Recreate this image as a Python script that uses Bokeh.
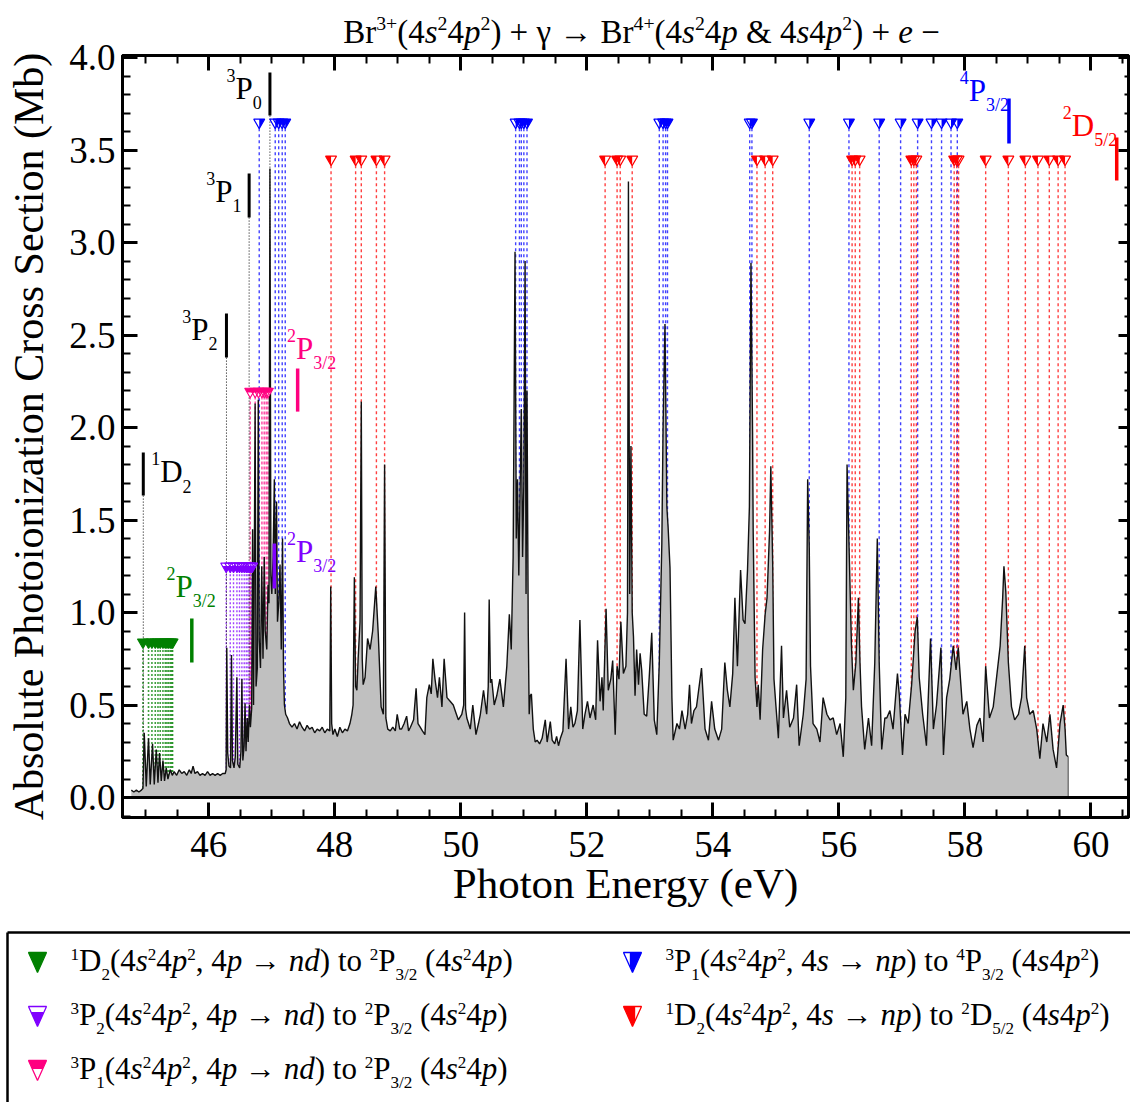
import math
from bokeh.plotting import figure
from bokeh.models import (Range1d, LinearAxis, SingleIntervalTicker, PrintfTickFormatter,
                          CustomJSTickFormatter, ColumnDataSource, Span)
from bokeh.layouts import column
from bokeh.core.properties import value, field
from bokeh.embed import file_html
from bokeh.resources import INLINE

FONT = "Liberation Serif"

# ------------------------------------------------------------------ data
# spectrum (photon energy eV, cross section Mb)
E_A = [44.77, 44.81, 44.85, 44.89, 44.93, 44.955, 44.975, 45.007, 45.043, 45.07,
       45.107, 45.134, 45.166, 45.193, 45.218, 45.245, 45.272, 45.297, 45.324, 45.351,
       45.388, 45.42, 45.45, 45.49, 45.53, 45.57, 45.61, 45.65, 45.69, 45.72,
       45.75, 45.78, 45.82, 45.86, 45.90, 45.94, 45.98, 46.02, 46.06, 46.10,
       46.14, 46.18, 46.22, 46.26]
S_A = [0.04, 0.03, 0.04, 0.03, 0.04, 0.05, 0.35, 0.06, 0.32, 0.07,
       0.29, 0.07, 0.26, 0.08, 0.24, 0.09, 0.20, 0.09, 0.16, 0.10,
       0.15, 0.12, 0.14, 0.12, 0.15, 0.13, 0.14, 0.12, 0.15, 0.13,
       0.17, 0.13, 0.14, 0.12, 0.13, 0.12, 0.14, 0.12, 0.13, 0.12,
       0.13, 0.12, 0.13, 0.13]
E_B = [46.275, 46.285, 46.30, 46.32, 46.345, 46.36, 46.375, 46.40, 46.42, 46.445,
       46.46, 46.49, 46.51, 46.525, 46.54, 46.56, 46.575, 46.59, 46.61, 46.625,
       46.645, 46.66, 46.68, 46.695, 46.71, 46.735, 46.75, 46.77, 46.785, 46.80,
       46.82, 46.84, 46.86, 46.88, 46.895, 46.92, 46.94, 46.955, 46.97, 46.985,
       47.00, 47.02, 47.04, 47.055, 47.075, 47.09, 47.11, 47.13, 47.15, 47.17,
       47.185, 47.20, 47.22, 47.25, 47.28]
S_B = [0.15, 0.81, 0.24, 0.17, 0.16, 0.77, 0.20, 0.16, 0.22, 0.65,
       0.18, 0.16, 0.25, 0.64, 0.20, 0.28, 0.51, 0.25, 0.43, 0.30,
       0.50, 0.38, 0.48, 1.45, 0.50, 2.13, 0.60, 0.70, 2.15, 0.85,
       0.70, 1.25, 0.75, 1.30, 0.90, 0.80, 1.15, 1.05, 3.40, 1.20,
       1.10, 1.30, 1.72, 1.10, 1.60, 0.95, 1.05, 1.26, 0.80, 1.40,
       0.70, 0.50, 0.45, 0.43, 0.40]
E_C = [47.32, 47.36, 47.40, 47.44, 47.48, 47.52, 47.56, 47.60, 47.64, 47.68,
       47.72, 47.76, 47.80, 47.84, 47.88, 47.92, 47.935, 47.95, 47.97, 48.00,
       48.04, 48.08, 48.12, 48.16, 48.20, 48.24, 48.27, 48.29, 48.31, 48.33,
       48.35, 48.37, 48.40, 48.42, 48.435, 48.45, 48.48, 48.52, 48.56, 48.60,
       48.65, 48.69, 48.735, 48.77, 48.79, 48.81, 48.84, 48.88]
S_C = [0.38, 0.40, 0.37, 0.41, 0.38, 0.36, 0.39, 0.37, 0.38, 0.35,
       0.37, 0.36, 0.38, 0.35, 0.37, 0.36, 1.14, 0.40, 0.34, 0.37,
       0.33, 0.38, 0.35, 0.37, 0.36, 0.40, 0.45, 0.50, 1.19, 0.60,
       0.58, 0.75, 0.95, 2.14, 0.75, 0.61, 0.65, 0.86, 0.80, 0.90,
       1.14, 0.88, 0.49, 0.45, 1.80, 0.43, 0.37, 0.36]
E_D = [48.92, 48.96, 48.99, 49.03, 49.06, 49.10, 49.14, 49.17, 49.20, 49.25,
       49.29, 49.32, 49.355, 49.39, 49.43, 49.46, 49.50, 49.53, 49.556, 49.59,
       49.63, 49.66, 49.70, 49.735, 49.78, 49.83, 49.88, 49.92, 49.96, 50.015,
       50.045, 50.06, 50.075, 50.095, 50.15, 50.19, 50.24, 50.28, 50.31, 50.36,
       50.41, 50.435, 50.45, 50.47, 50.49, 50.53, 50.57, 50.62, 50.675, 50.73,
       50.77]
S_D = [0.38, 0.36, 0.45, 0.37, 0.37, 0.40, 0.44, 0.36, 0.38, 0.42,
       0.59, 0.40, 0.38, 0.36, 0.34, 0.54, 0.61, 0.56, 0.75, 0.64,
       0.54, 0.65, 0.49, 0.75, 0.54, 0.52, 0.50, 0.46, 0.42, 0.45,
       0.50, 1.00, 0.48, 0.43, 0.37, 0.50, 0.34, 0.40, 0.45, 0.58,
       0.45, 0.60, 1.07, 0.62, 0.64, 0.50, 0.55, 0.64, 0.49, 0.71,
       0.99]
E_E = [50.80, 50.83, 50.86, 50.88, 50.90, 50.92, 50.94, 50.96, 50.98, 51.00,
       51.02, 51.035, 51.05, 51.07, 51.085, 51.10, 51.12, 51.15, 51.18, 51.21,
       51.25, 51.29, 51.34, 51.37, 51.42, 51.45, 51.49, 51.52, 51.55, 51.58,
       51.62]
S_E = [0.80, 1.30, 2.95, 1.40, 1.72, 1.20, 1.65, 2.10, 1.30, 1.70,
       2.90, 1.10, 2.20, 0.90, 0.45, 0.55, 0.56, 0.37, 0.30, 0.31,
       0.29, 0.32, 0.42, 0.30, 0.41, 0.31, 0.29, 0.33, 0.28, 0.32,
       0.36]
E_F = [51.67, 51.71, 51.745, 51.78, 51.81, 51.85, 51.89, 51.935, 51.97, 52.01,
       52.05, 52.10, 52.14, 52.17, 52.21, 52.24, 52.26, 52.305, 52.34, 52.38,
       52.41, 52.45, 52.48, 52.51, 52.54, 52.58, 52.62, 52.645, 52.66, 52.68,
       52.70, 52.72, 52.74, 52.765, 52.79, 52.82, 52.845, 52.87, 52.91, 52.95,
       52.99, 53.03, 53.07, 53.11, 53.15, 53.19, 53.21, 53.24, 53.27, 53.29,
       53.32, 53.35, 53.37, 53.43, 53.47, 53.51, 53.56, 53.60, 53.63, 53.66,
       53.70]
S_F = [0.75, 0.37, 0.49, 0.38, 0.40, 0.47, 0.96, 0.37, 0.45, 0.52,
       0.43, 0.50, 0.42, 0.85, 0.52, 0.65, 0.47, 1.02, 0.58, 0.64,
       0.74, 0.34, 0.71, 0.64, 0.95, 0.67, 0.71, 1.00, 3.33, 1.10,
       1.90, 1.00, 0.87, 0.55, 0.80, 0.61, 0.78, 0.69, 0.45, 0.44,
       0.65, 0.89, 0.42, 0.34, 0.73, 1.37, 2.00, 2.56, 1.57, 1.46,
       1.24, 0.54, 0.31, 0.40, 0.37, 0.47, 0.37, 0.45, 0.61, 0.40,
       0.47]
E_G = [53.74, 53.82, 53.876, 53.93, 53.98, 54.03, 54.09, 54.14, 54.19, 54.23,
       54.27, 54.315, 54.35, 54.39, 54.44, 54.48, 54.51, 54.55, 54.58, 54.605,
       54.63, 54.64, 54.67, 54.70, 54.72, 54.75, 54.79, 54.83, 54.86, 54.90,
       54.92, 54.95, 54.97, 55.00, 55.04, 55.09, 55.12, 55.17, 55.22, 55.28,
       55.33, 55.37, 55.435, 55.48, 55.505, 55.53, 55.55, 55.59, 55.65, 55.70,
       55.75, 55.81, 55.86, 55.91, 55.965, 56.02, 56.07, 56.11, 56.13, 56.165,
       56.20, 56.23, 56.27, 56.31, 56.335, 56.36, 56.41, 56.47, 56.52, 56.57,
       56.61, 56.64, 56.68, 56.73]
S_G = [0.49, 0.70, 0.37, 0.31, 0.52, 0.37, 0.31, 0.37, 0.73, 0.58,
       0.49, 0.67, 1.08, 0.71, 1.23, 0.96, 0.94, 1.23, 1.57, 2.89,
       1.98, 1.44, 0.65, 0.49, 0.61, 0.42, 0.80, 0.99, 1.08, 1.44,
       1.79, 1.26, 0.64, 0.50, 0.32, 0.82, 0.43, 0.58, 0.38, 0.43,
       0.61, 0.28, 0.45, 0.64, 1.72, 1.35, 0.71, 0.40, 0.37, 0.30,
       0.54, 0.45, 0.42, 0.43, 0.34, 0.40, 0.22, 0.54, 1.80, 1.31,
       0.82, 0.58, 0.73, 1.08, 0.73, 0.49, 0.26, 0.43, 0.28, 0.73,
       1.40, 0.73, 0.26, 0.43]
E_H = [56.76, 56.81, 56.86, 56.93, 56.96, 57.01, 57.05, 57.10, 57.155, 57.21,
       57.245, 57.275, 57.33, 57.39, 57.455, 57.50, 57.55, 57.62, 57.66, 57.71,
       57.76, 57.815, 57.86, 57.895, 57.93, 57.97, 58.03, 58.08, 58.13, 58.19,
       58.24, 58.29, 58.33, 58.39, 58.45, 58.50, 58.56, 58.60, 58.62, 58.65,
       58.69, 58.74, 58.79, 58.85, 58.90, 58.95, 58.98, 59.03, 59.085, 59.14,
       59.19, 59.24, 59.30, 59.35, 59.40, 59.455, 59.51, 59.56, 59.59, 59.61,
       59.64]
S_H = [0.43, 0.47, 0.37, 0.67, 0.55, 0.23, 0.45, 0.40, 0.61, 0.90,
       0.975, 0.65, 0.45, 0.28, 0.86, 0.37, 0.50, 0.81, 0.23, 0.54,
       0.64, 0.82, 0.69, 0.81, 0.64, 0.45, 0.52, 0.37, 0.27, 0.39,
       0.43, 0.30, 0.71, 0.43, 0.49, 0.64, 0.82, 1.08, 1.25, 1.11,
       0.73, 0.49, 0.42, 0.45, 0.54, 0.82, 0.54, 0.45, 0.47, 0.37,
       0.21, 0.40, 0.30, 0.45, 0.26, 0.16, 0.40, 0.50, 0.37, 0.23,
       0.22]

# resonance positions (eV) of the five Rydberg series
GREEN_E = [44.955, 45.043, 45.097, 45.150, 45.193, 45.229, 45.272, 45.309, 45.335,
           45.361, 45.388, 45.41, 45.425]
PURPLE_E = [46.276, 46.340, 46.392, 46.446, 46.487, 46.525, 46.562, 46.594, 46.621,
            46.646, 46.668, 46.689]
PINK_E = [46.657, 46.736, 46.789, 46.843, 46.879, 46.911, 46.938]
BLUE_E = [46.80, 47.054, 47.109, 47.165, 47.213, 50.87, 50.93, 50.96, 51.00, 51.05,
          53.15, 53.21, 53.25, 53.28, 54.585, 54.62, 55.53, 56.16, 56.64, 56.98,
          57.25, 57.47, 57.63, 57.78, 57.88]
RED_E = [47.94, 48.33, 48.42, 48.66, 48.79, 52.29, 52.48, 52.53, 52.72, 54.70,
         54.83, 54.95, 56.21, 56.26, 56.33, 57.15, 57.19, 57.23, 57.83, 57.87,
         57.90, 58.33, 58.69, 58.96, 59.16, 59.34, 59.48, 59.59]
ROW_Y = {"green": 0.84, "purple": 1.25, "pink": 2.195, "blue": 3.65, "red": 3.45}

# ionization thresholds of the initial states (eV) and their marker bars (Mb)
THR_E = [44.96, 46.28, 46.64, 46.97]
THR_LO = [1.632, 2.378, 3.135, 3.686]
THR_HI = [1.865, 2.616, 3.373, 3.919]
# series limits
LIM_E = [45.73, 47.04, 47.41, 58.70, 60.41]
LIM_LO = [0.73, 1.13, 2.086, 3.535, 3.335]
LIM_HI = [0.968, 1.373, 2.319, 3.778, 3.568]

X_TICKS_STEP = 2
Y_TICKS_STEP = 0.5

# ------------------------------------------------------------------ styles
GREEN, PURPLE, PINK, BLUE, RED = "#008000", "#8000ff", "#ff0080", "#0000ff", "#ff0000"
LIM_COL = [GREEN, PURPLE, PINK, BLUE, RED]

W_ADV = {' ': 0.25, '(': 0.333, ')': 0.333, '+': 0.564, ',': 0.25, '.': 0.25, '/': 0.278,
         '&': 0.778, 'B': 0.667, 'D': 0.722, 'P': 0.556, 'e': 0.444, 'n': 0.5, 'o': 0.5,
         'p': 0.5, 'r': 0.333, 's': 0.389, 't': 0.278, 'd': 0.5, 'γ': 0.44, '→': 1.0,
         '−': 0.564}
BASE_CORR = 0.38   # renderer places the alphabetic baseline this many ems low


def adv(t):
    return sum(W_ADV.get(c, 0.5) for c in t)


def rich_pieces(parts, S, r=0.58, up=0.58, dn=0.30):
    x = 0.0
    out = []
    for t, k in parts:
        if k == "sup":
            s, dy, st = S * r, S * up, "normal"
        elif k == "sub":
            s, dy, st = S * r, -S * dn, "normal"
        elif k == "i":
            s, dy, st = S, 0.0, "italic"
        else:
            s, dy, st = S, 0.0, "normal"
        stripped = t.lstrip(" ")
        x += adv(t[:len(t) - len(stripped)]) * s
        body = stripped.rstrip(" ")
        if body:
            out.append((x, dy, body, s, st))
        x += adv(stripped) * s
    return out, x


class TextBuf:
    def __init__(self):
        self.d = dict(x=[], y=[], t=[], fs=[], st=[], c=[])

    def add(self, parts, x0, y0, S, color, kx, ky, **kw):
        pcs, w = rich_pieces(parts, S, **kw)
        for dx, dy, t, s, st in pcs:
            self.d['x'].append(x0 + dx * kx)
            self.d['y'].append(y0 + (dy + BASE_CORR * s) * ky)
            self.d['t'].append(t)
            self.d['fs'].append("%.1fpx" % s)
            self.d['st'].append(st)
            self.d['c'].append(color)
        return w

    def draw(self, fig):
        fig.text(x='x', y='y', text=field('t'), source=ColumnDataSource(self.d),
                 text_font=value(FONT), text_font_size=field('fs'),
                 text_font_style=field('st'), text_color=field('c'),
                 text_baseline="alphabetic", text_align="left")


def clip(poly, inside, inter):
    out = []
    for i in range(len(poly)):
        cur, prev = poly[i], poly[i - 1]
        if inside(cur):
            if not inside(prev):
                out.append(inter(prev, cur))
            out.append(cur)
        elif inside(prev):
            out.append(inter(prev, cur))
    return out


def ix(v):
    return lambda p, c: (v, p[1] + (c[1] - p[1]) * (v - p[0]) / (c[0] - p[0]))


def iy(v):
    return lambda p, c: (p[0] + (c[0] - p[0]) * (v - p[1]) / (c[1] - p[1]), v)


def fill_poly(mode, r, a, b, frac):
    """triangle pointing down, y up: top edge at +a, tip at -b, half width r"""
    tri = [(-r, a), (r, a), (0.0, -b)]
    if mode == "full":
        return tri
    if mode == "right":
        v = -frac * r
        return clip(tri, lambda q: q[0] >= v, ix(v))
    if mode == "left":
        v = frac * r
        return clip(tri, lambda q: q[0] <= v, ix(v))
    if mode == "top":
        v = a - frac * (a + b)
        return clip(tri, lambda q: q[1] >= v, iy(v))
    if mode == "bottom":
        v = a - frac * (a + b)
        return clip(tri, lambda q: q[1] <= v, iy(v))


def no_align(fig):
    try:
        fig.frame_align = False
    except Exception:
        pass


PAGE_W = 1130
OVERLAP = 24                      # main figure slides up under the title strip
TITLE_H, LEG_H = 55, 177
TOP_B, BOT_B = OVERLAP, 108
FW, FH = 1006, 762
MAIN_H = TOP_B + FH + BOT_B

# ------------------------------------------------------------------ main plot
X0 = 44.63
X1 = X0 + FW / 63.005
Y0, Y1 = -0.108, 4.011
KX = (X1 - X0) / FW   # data per px
KY = (Y1 - Y0) / FH

p = figure(frame_width=FW, frame_height=FH, x_range=Range1d(X0, X1), y_range=Range1d(Y0, Y1),
           output_backend="svg", toolbar_location=None,
           min_border_left=PAGE_W - FW - 2, min_border_right=2, min_border_top=TOP_B,
           min_border_bottom=BOT_B,
           background_fill_color="white", border_fill_color=None)
no_align(p)
try:
    p.styles = {"margin-top": "-%dpx" % OVERLAP}
except Exception:
    pass
p.grid.visible = False
p.outline_line_color = "black"
p.outline_line_width = 3


def style_axis(ax, big=True):
    ax.axis_line_width = 3
    ax.axis_line_color = "black"
    ax.major_tick_line_width = 3
    ax.minor_tick_line_width = 2
    ax.major_tick_out = 0
    ax.minor_tick_out = 0
    ax.major_tick_in = 15 if big else 10
    ax.minor_tick_in = 8 if big else 4
    ax.major_label_text_font = FONT
    ax.major_label_text_color = "black"
    ax.axis_label_text_font = FONT
    ax.axis_label_text_font_style = "normal"
    ax.axis_label_text_color = "black"


xa = p.xaxis[0]
xa.ticker = SingleIntervalTicker(interval=X_TICKS_STEP, num_minor_ticks=4)
style_axis(xa)
xa.axis_label = "Photon Energy (eV)"
xa.axis_label_text_font_size = "43px"
xa.major_label_text_font_size = "37px"
xa.major_label_standoff = 14
xa.axis_label_standoff = 0

ya = p.yaxis[0]
ya.ticker = SingleIntervalTicker(interval=Y_TICKS_STEP, num_minor_ticks=5)
ya.formatter = PrintfTickFormatter(format="%.1f")
style_axis(ya)
ya.axis_label = "Absolute Photoionization Cross Section (Mb)"
ya.axis_label_text_font_size = "42px"
ya.major_label_text_font_size = "37px"
ya.major_label_standoff = 7
ya.axis_label_standoff = 14

top_ax = LinearAxis(ticker=SingleIntervalTicker(interval=X_TICKS_STEP, num_minor_ticks=4),
                    formatter=CustomJSTickFormatter(code="return ''"))
style_axis(top_ax)
top_ax.major_label_text_font_size = "0px"
top_ax.major_label_standoff = 0
p.add_layout(top_ax, "above")

right_ax = LinearAxis(ticker=SingleIntervalTicker(interval=Y_TICKS_STEP, num_minor_ticks=5),
                      formatter=CustomJSTickFormatter(code="return ''"))
style_axis(right_ax, big=False)
right_ax.major_label_text_font_size = "0px"
right_ax.major_label_standoff = 0
p.add_layout(right_ax, "right")

# dotted drop lines from each resonance marker
series = [
    (GREEN_E, "green", GREEN, "2 2", 1.6, "full", 0.0),
    (PURPLE_E, "purple", PURPLE, "2 2", 1.4, "bottom", 0.3),
    (PINK_E, "pink", PINK, "3 2", 1.4, "top", 0.45),
    (BLUE_E, "blue", BLUE, "3 3", 1.4, "right", 0.0),
    (RED_E, "red", RED, "3 3", 1.4, "left", 0.0),
]
for xs, key, col, dash, lw, _, _ in series:
    yr = ROW_Y[key]
    p.segment(x0=xs, y0=[yr] * len(xs), x1=xs, y1=[0] * len(xs),
              line_color=col, line_dash=dash, line_width=lw, line_alpha=0.75)

# threshold dotted lines
p.segment(x0=THR_E, y0=THR_LO, x1=THR_E, y1=[0] * len(THR_E),
          line_color="black", line_dash="1 2", line_width=1)

# spectrum
E_ALL = E_A + E_B + E_C + E_D + E_E + E_F + E_G + E_H
S_ALL = S_A + S_B + S_C + S_D + S_E + S_F + S_G + S_H
assert len(E_ALL) == len(S_ALL)
spec = ColumnDataSource(dict(e=E_ALL, s=S_ALL, z=[0] * len(E_ALL)))
p.varea(x='e', y1='z', y2='s', source=spec, fill_color="#c0c0c0")
p.line(x='e', y='s', source=spec, line_color="#111111", line_width=1.4)
p.segment(x0=[E_ALL[-1]], y0=[S_ALL[-1]], x1=[E_ALL[-1]], y1=[0],
          line_color="#777777", line_width=1.5)
p.add_layout(Span(location=0, dimension="width", line_color="black", line_width=3))

# resonance markers
MS = 11
R = MS / 2.0
A = R / math.sqrt(3)
B = 2 * A
for xs, key, col, dash, lw, mode, frac in series:
    yr = ROW_Y[key]
    src = ColumnDataSource(dict(x=xs, y=[yr] * len(xs)))
    p.scatter('x', 'y', source=src, marker="inverted_triangle", size=MS,
              fill_color="white", line_color=None)
    poly = fill_poly(mode, R, A, B, frac)
    pxs = [[x + q[0] * KX for q in poly] for x in xs]
    pys = [[yr + q[1] * KY for q in poly] for x in xs]
    p.patches(pxs, pys, fill_color=col, line_color=None)
    p.scatter('x', 'y', source=src, marker="inverted_triangle", size=MS,
              fill_color=None, line_color=col, line_width=1.1)

# threshold and limit bars
p.segment(x0=THR_E, y0=THR_LO, x1=THR_E, y1=THR_HI, line_color="black", line_width=3)
p.segment(x0=LIM_E, y0=LIM_LO, x1=LIM_E, y1=LIM_HI, line_color=LIM_COL, line_width=3.5)

# state labels
tb = TextBuf()
S_LAB = 31
P32 = [("2", "sup"), ("P", "n"), ("3/2", "sub")]
labels = [
    ([("1", "sup"), ("D", "n"), ("2", "sub")], 45.086, 1.697, "black"),
    ([("3", "sup"), ("P", "n"), ("2", "sub")], 45.58, 2.465, "black"),
    ([("3", "sup"), ("P", "n"), ("1", "sub")], 45.96, 3.211, "black"),
    ([("3", "sup"), ("P", "n"), ("0", "sub")], 46.28, 3.768, "black"),
    (P32, 47.24, 2.362, PINK),
    (P32, 47.24, 1.265, PURPLE),
    (P32, 45.33, 1.076, GREEN),
    ([("4", "sup"), ("P", "n"), ("3/2", "sub")], 57.92, 3.757, BLUE),
    ([("2", "sup"), ("D", "n"), ("5/2", "sub")], 59.555, 3.568, RED),
]
for parts, x0, y0, col in labels:
    tb.add(parts, x0, y0, S_LAB, col, KX, KY)
tb.draw(p)

# ------------------------------------------------------------------ title
tf = figure(width=PAGE_W, height=TITLE_H, x_range=Range1d(0, PAGE_W), y_range=Range1d(TITLE_H, 0),
            output_backend="svg", toolbar_location=None, min_border=0,
            min_border_left=0, min_border_right=0, min_border_top=0, min_border_bottom=0,
            outline_line_color=None, x_axis_location=None, y_axis_location=None)
no_align(tf)
tf.grid.visible = False
title_parts = [("Br", "n"), ("3+", "sup"), ("(4", "n"), ("s", "i"), ("2", "sup"), ("4", "n"),
               ("p", "i"), ("2", "sup"), (") + γ → Br", "n"), ("4+", "sup"), ("(4", "n"),
               ("s", "i"), ("2", "sup"), ("4", "n"), ("p", "i"), (" & 4", "n"), ("s", "i"),
               ("4", "n"), ("p", "i"), ("2", "sup"), (") + ", "n"), ("e", "i"), (" −", "n")]
S_T = 33
TKW = dict(r=0.6, up=0.42, dn=0.3)
_, tw = rich_pieces(title_parts, S_T, **TKW)
tt = TextBuf()
tt.add(title_parts, 641 - tw / 2, 44, S_T, "black", 1, -1, **TKW)
tt.draw(tf)

# ------------------------------------------------------------------ legend
lg = figure(width=PAGE_W, height=LEG_H, x_range=Range1d(0, PAGE_W), y_range=Range1d(LEG_H, 0),
            output_backend="svg", toolbar_location=None, min_border=0,
            min_border_left=0, min_border_right=0, min_border_top=0, min_border_bottom=0,
            outline_line_color=None, x_axis_location=None, y_axis_location=None)
no_align(lg)
lg.grid.visible = False
lg.multi_line(xs=[[7, PAGE_W + 20], [7, 7]], ys=[[7, 7], [7, LEG_H + 20]],
              line_color="black", line_width=2.5)

NDp = [("(4", "n"), ("s", "i"), ("2", "sup"), ("4", "n"), ("p", "i"), ("2", "sup"), (", 4", "n"),
       ("p", "i"), (" → ", "n"), ("nd", "i"), (") to ", "n"), ("2", "sup"), ("P", "n"),
       ("3/2", "sub"), (" (4", "n"), ("s", "i"), ("2", "sup"), ("4", "n"), ("p", "i"), (")", "n")]
NPp = [("(4", "n"), ("s", "i"), ("2", "sup"), ("4", "n"), ("p", "i"), ("2", "sup"), (", 4", "n"),
       ("s", "i"), (" → ", "n"), ("np", "i"), (") to ", "n")]
TAIL_S = [(" (4", "n"), ("s", "i"), ("4", "n"), ("p", "i"), ("2", "sup"), (")", "n")]
legend_rows = [
    (37, 37, GREEN, "full", 0.0, [("1", "sup"), ("D", "n"), ("2", "sub")] + NDp, 70),
    (37, 91, PURPLE, "bottom", 0.28, [("3", "sup"), ("P", "n"), ("2", "sub")] + NDp, 70),
    (37, 145, PINK, "top", 0.42, [("3", "sup"), ("P", "n"), ("1", "sub")] + NDp, 70),
    (632, 37, BLUE, "right", 0.3, [("3", "sup"), ("P", "n"), ("1", "sub")] + NPp +
     [("4", "sup"), ("P", "n"), ("3/2", "sub")] + TAIL_S, 665),
    (632, 91, RED, "left", 0.3, [("1", "sup"), ("D", "n"), ("2", "sub")] + NPp +
     [("2", "sup"), ("D", "n"), ("5/2", "sub")] + TAIL_S, 665),
]
LKW = dict(r=0.55, up=0.36, dn=0.27)
lt = TextBuf()
for cx, cy, col, mode, frac, parts, tx in legend_rows:
    r, a, b = 9.0, 10.0, 10.0
    tri = fill_poly("full", r, a, b, 0)
    fp = fill_poly(mode, r, a, b, frac)
    lg.patch([cx + q[0] for q in tri], [cy - q[1] for q in tri], fill_color="white",
             line_color=None)
    lg.patch([cx + q[0] for q in fp], [cy - q[1] for q in fp], fill_color=col, line_color=None)
    lg.patch([cx + q[0] for q in tri], [cy - q[1] for q in tri], fill_color=None,
             line_color=col, line_width=1.3)
    lt.add(parts, tx, cy + 10, 31, "black", 1, -1, **LKW)
lt.draw(lg)

layout = column(tf, p, lg, spacing=0)
open("out.html", "w").write(file_html(layout, INLINE))
